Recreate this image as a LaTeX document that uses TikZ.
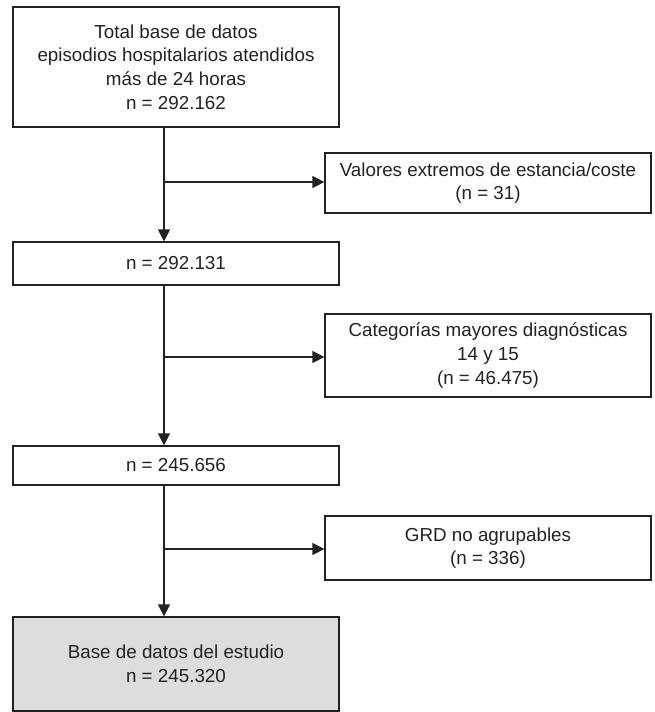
\documentclass[tikz,border=0pt]{standalone}
\usepackage{fontspec}
\setmainfont{Liberation Sans}
\usepackage{xcolor}
\usepackage{tikz}
\usetikzlibrary{calc,arrows.meta}

\definecolor{boxGray}{HTML}{DCDDDF}
\definecolor{lineDark}{HTML}{222222}

\begin{document}
\begin{tikzpicture}[x=1pt, y=-1pt, font=\fontsize{18.8}{23.6}\selectfont,
  box/.style={draw=lineDark, line width=1.2pt, minimum width=326pt, inner sep=0pt, align=center, text=lineDark},
  arr/.style={draw=lineDark, line width=1.2pt, -{Triangle[width=12pt,length=12pt]}}]
  \useasboundingbox (0,0) rectangle (655,712);

  % main column
  \node[box, minimum height=120pt] (total) at (176,67)
    {Total base de datos\\episodios hospitalarios atendidos\\más de 24 horas\\n = 292.162};
  \node[box, minimum height=43pt] (nA) at (176,263.5) {n = 292.131};
  \node[box, minimum height=39pt] (nB) at (176,465.5) {n = 245.656};
  \node[box, fill=boxGray, minimum height=94pt] (estudio) at (176,664)
    {Base de datos del estudio\\n = 245.320};

  % excluded
  \node[box, minimum height=60pt] (extremos) at (488,183)
    {Valores extremos de estancia/coste\\(n = 31)};
  \node[box, minimum height=83pt] (cmd) at (488,355.5)
    {Categorías mayores diagnósticas\\14 y 15\\(n = 46.475)};
  \node[box, minimum height=64pt] (grd) at (488,548)
    {GRD no agrupables\\(n = 336)};

  % spine
  \coordinate (sA) at (164,182);
  \coordinate (sB) at (164,357);
  \coordinate (sC) at (164,549);

  \draw[arr] (total.south -| sA) -- (nA.north -| sA);
  \draw[arr] (nA.south -| sB) -- (nB.north -| sB);
  \draw[arr] (nB.south -| sC) -- (estudio.north -| sC);

  \draw[arr] (sA) -- (sA -| extremos.west);
  \draw[arr] (sB) -- (sB -| cmd.west);
  \draw[arr] (sC) -- (sC -| grd.west);
\end{tikzpicture}
\end{document}
